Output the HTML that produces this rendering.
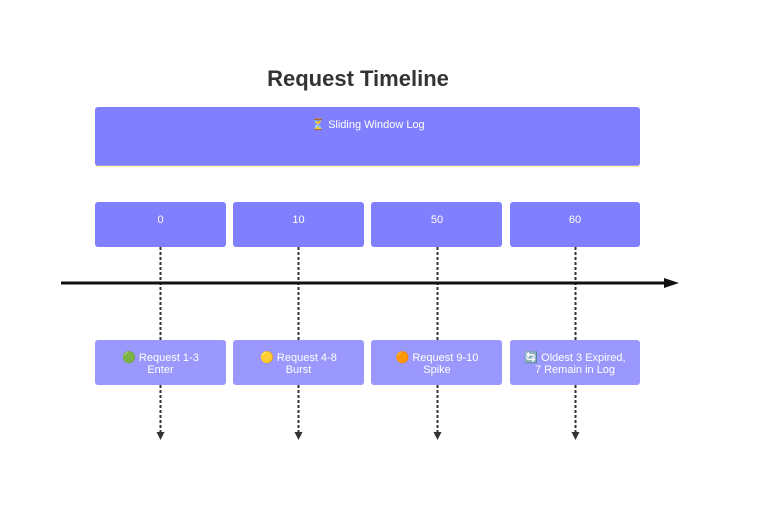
<!DOCTYPE html>
<html><head><meta charset="utf-8"><style>
body{margin:0;background:#fff;}
svg{display:block;font-family:"Trebuchet MS","Liberation Sans","DejaVu Sans",sans-serif;}
</style></head><body>
<svg width="758" height="518" viewBox="0 0 758 518" xmlns="http://www.w3.org/2000/svg">
<defs>
<marker id="ah" viewBox="0 0 10 10" refX="5" refY="5" markerWidth="4" markerHeight="4" orient="auto"><path d="M0,0L10,5L0,10z" fill="#333"/></marker>
</defs>
<text x="358" y="86" text-anchor="middle" font-size="22" font-weight="bold" fill="#333">Request Timeline</text>
<rect x="95" y="107" width="545" height="59" rx="3" fill="#8080ff"/>
<line x1="95" y1="166.5" x2="640" y2="166.5" stroke="#fff5b0" stroke-width="1.5"/>
<text x="368" y="128" text-anchor="middle" font-size="11" fill="#fff">⏳ Sliding Window Log</text>
<g font-size="11" fill="#fff" text-anchor="middle">
<g stroke="#333" stroke-width="2" stroke-dasharray="3,2" fill="none">
<line x1="160.5" y1="247" x2="160.5" y2="340"/><line x1="160.5" y1="385" x2="160.5" y2="436" marker-end="url(#ah)"/>
<line x1="298.5" y1="247" x2="298.5" y2="340"/><line x1="298.5" y1="385" x2="298.5" y2="436" marker-end="url(#ah)"/>
<line x1="437.5" y1="247" x2="437.5" y2="340"/><line x1="437.5" y1="385" x2="437.5" y2="436" marker-end="url(#ah)"/>
<line x1="575.5" y1="247" x2="575.5" y2="340"/><line x1="575.5" y1="385" x2="575.5" y2="436" marker-end="url(#ah)"/>
</g>
<rect x="95" y="202" width="131" height="45" rx="3" fill="#8080ff"/>
<rect x="233" y="202" width="131" height="45" rx="3" fill="#8080ff"/>
<rect x="371" y="202" width="131" height="45" rx="3" fill="#8080ff"/>
<rect x="510" y="202" width="130" height="45" rx="3" fill="#8080ff"/>
<text x="160.5" y="223">0</text><text x="298.5" y="223">10</text><text x="437" y="223">50</text><text x="575" y="223">60</text>
<rect x="95" y="340" width="131" height="45" rx="3" fill="#9a98fc"/>
<rect x="233" y="340" width="131" height="45" rx="3" fill="#9a98fc"/>
<rect x="371" y="340" width="131" height="45" rx="3" fill="#9a98fc"/>
<rect x="510" y="340" width="130" height="45" rx="3" fill="#9a98fc"/>
<text x="160.5" y="361">🟢 Request 1-3</text><text x="160.5" y="373">Enter</text>
<text x="298.5" y="361">🟡 Request 4-8</text><text x="298.5" y="373">Burst</text>
<text x="437" y="361">🟠 Request 9-10</text><text x="437" y="373">Spike</text>
<text x="575" y="361">🔄 Oldest 3 Expired,</text><text x="575" y="373">7 Remain in Log</text>
</g>
<line x1="61" y1="283" x2="668" y2="283" stroke="#111" stroke-width="3"/>
<path d="M664,278L679,283L664,288z" fill="#111"/>
</svg>
</body></html>
